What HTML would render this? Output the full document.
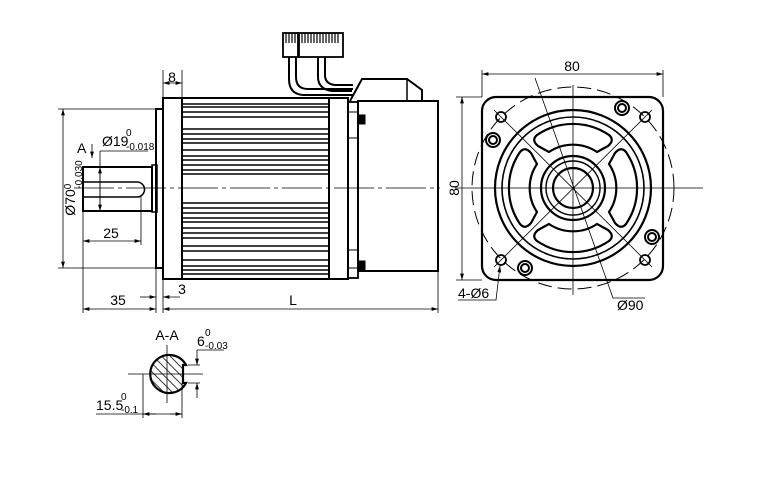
<!DOCTYPE html>
<html><head><meta charset="utf-8"><style>
html,body{margin:0;padding:0;background:#fff}
svg{display:block}
text{font-family:"Liberation Sans Narrow","Liberation Sans",sans-serif;fill:#000}
</style></head><body>
<svg width="760" height="485" viewBox="0 0 760 485" xmlns="http://www.w3.org/2000/svg">
<defs>
<marker id="a" viewBox="0 0 10 6" refX="10" refY="3" markerWidth="8" markerHeight="5" orient="auto-start-reverse"><path d="M0,0L10,3L0,6z" fill="#000"/></marker>
<pattern id="h" width="6" height="6" patternUnits="userSpaceOnUse" patternTransform="rotate(-45)"><line x1="0" y1="0" x2="0" y2="6" stroke="#000" stroke-width="1.6"/></pattern>
</defs>
<g fill="none" stroke="#000">
<rect x="283" y="33" width="15" height="24" stroke-width="1.8"/>
<rect x="299" y="33" width="44" height="24" stroke-width="1.8"/>
<g stroke-width="1.2">
<path d="M286,33v10M289,33v10M292,33v10M295,33v10M302,33v10M305,33v10M308,33v10M311,33v10M314,33v10M317,33v10M320,33v10M323,33v10M326,33v10M329,33v10M332,33v10M335,33v10M338,33v10"/>
</g>
<path d="M289,57v22q0,15 14,16h50M296,57v20q0,12 12,12h45" stroke-width="2"/>
<path d="M318,57v20q0,12 14,14h20M325,57v18q0,9 10,10h18" stroke-width="2"/>
<path d="M350,101L362,79H407L422,90V101" stroke-width="2"/>
<path d="M407,79V101" stroke-width="1.5"/>
<rect x="156" y="109" width="7" height="159" stroke-width="2"/>
<rect x="152" y="165" width="5" height="47" stroke-width="1.5"/>
<rect x="83" y="167" width="69" height="44" stroke-width="2"/>
<path d="M83,182H137a7.5,7.5 0 0 1 0,15H83" stroke-width="1.5"/>
<rect x="163" y="98" width="185" height="181" stroke-width="2"/>
<path d="M182,98V279M329,98V279" stroke-width="2"/>
<g stroke-width="1.5">
<path d="M182,104H329M182,107H329M182,112H329M182,117H329M182,129H329M182,134H329M182,139H329M182,143H329M182,150H329M182,156H329M182,160H329M182,165H329M182,170H329M182,174H329"/>
<path d="M182,203H329M182,208H329M182,213H329M182,218H329M182,222H329M182,228H329M182,233H329M182,238H329M182,246H329M182,251H329M182,260H329M182,266H329M182,270H329M182,274H329"/>
</g>
<rect x="348" y="102" width="10" height="176" stroke-width="1.8"/>
<path d="M348,112H358M348,138H358M348,250H358M348,268H358" stroke-width="1"/>
<rect x="358" y="101" width="80" height="170" stroke-width="2"/>
<rect x="358" y="115" width="7" height="9" fill="#000"/>
<rect x="358" y="261" width="7" height="9" fill="#000"/>
<path d="M74,188H440" stroke-width="0.8" stroke-dasharray="40,4,4,4"/>
<g stroke-width="0.8">
<path d="M58,109H156M58,268H156"/>
<path d="M63,109V268" marker-start="url(#a)" marker-end="url(#a)"/>
<path d="M163,70V98M182,70V98"/>
<path d="M163,83H182" marker-start="url(#a)" marker-end="url(#a)"/>
<path d="M92,144V158" marker-end="url(#a)"/>
<path d="M100,151H148"/>
<path d="M100,151V211" marker-end="url(#a)"/>
<path d="M100,211V167" marker-end="url(#a)"/>
<path d="M83,211V313M141,197V245M156,268V313M163,279V313M438,271V313"/>
<path d="M83,241H141" marker-start="url(#a)" marker-end="url(#a)"/>
<path d="M83,309H156" marker-start="url(#a)" marker-end="url(#a)"/>
<path d="M163,309H438" marker-start="url(#a)" marker-end="url(#a)"/>
<path d="M140,297H156" marker-end="url(#a)"/>
<path d="M180,297H163" marker-end="url(#a)"/>
</g>
</g>
<text x="172" y="82" font-size="14" text-anchor="middle">8</text>
<text x="77" y="153" font-size="14">A</text>
<text x="102" y="146" font-size="14">Ø19</text>
<text x="126" y="136" font-size="10">0</text>
<text x="126" y="150" font-size="10">-0.018</text>
<text transform="translate(75,188) rotate(-90)" font-size="14" text-anchor="middle">Ø70<tspan font-size="10" dy="-4">0</tspan><tspan font-size="10" dy="11" dx="-5">-0.030</tspan></text>
<text x="111" y="238" font-size="14" text-anchor="middle">25</text>
<text x="118" y="305" font-size="14" text-anchor="middle">35</text>
<text x="182" y="294" font-size="14" text-anchor="middle">3</text>
<text x="293" y="305" font-size="14" text-anchor="middle">L</text>
<g fill="none" stroke="#000">
<rect x="482" y="97" width="181" height="183" rx="14" stroke-width="2.2"/>
<circle cx="573" cy="188" r="101" stroke-width="1" stroke-dasharray="14,6"/>
<circle cx="573" cy="188" r="78" stroke-width="2.2"/>
<circle cx="573" cy="188" r="71" stroke-width="1.6"/>
<circle cx="573" cy="188" r="32" stroke-width="2.2"/>
<circle cx="573" cy="188" r="27" stroke-width="1.4"/>
<circle cx="573" cy="188" r="20" stroke-width="2.2"/>
<g stroke-width="2.2" stroke-linejoin="round">
<path id="w" d="M537,135A64,64 0 0 1 609,135Q615,140 608,146L597,152A43,43 0 0 0 549,152L538,146Q531,140 537,135Z"/>
<use href="#w" transform="rotate(90 573 188)"/>
<use href="#w" transform="rotate(180 573 188)"/>
<use href="#w" transform="rotate(270 573 188)"/>
</g>
<g stroke-width="1.8">
<circle cx="501" cy="117" r="5"/><circle cx="645" cy="117" r="5"/>
<circle cx="501" cy="260" r="5"/><circle cx="645" cy="260" r="5"/>
</g>
<g stroke-width="2">
<circle cx="493" cy="140" r="7"/><circle cx="493" cy="140" r="4"/>
<circle cx="622" cy="108" r="7"/><circle cx="622" cy="108" r="4"/>
<circle cx="652" cy="237" r="7"/><circle cx="652" cy="237" r="4"/>
<circle cx="525" cy="268" r="7"/><circle cx="525" cy="268" r="4"/>
</g>
<g stroke-width="0.8">
<path d="M494,110L652,267M652,110L494,267"/>
<path d="M455,188H703M573,85V295"/>
<path d="M482,70V97M663,70V97"/>
<path d="M482,74H663" marker-start="url(#a)" marker-end="url(#a)"/>
<path d="M456,97H482M456,280H482"/>
<path d="M462,97V280" marker-start="url(#a)" marker-end="url(#a)"/>
<path d="M535,78L613,298H645"/>
<path d="M458,300H496L500,266" marker-end="url(#a)"/>
</g>
</g>
<text x="572" y="71" font-size="14" text-anchor="middle">80</text>
<text transform="translate(459,188) rotate(-90)" font-size="14" text-anchor="middle">80</text>
<text x="458" y="298" font-size="14">4-Ø6</text>
<text x="617" y="310" font-size="14">Ø90</text>
<g stroke="#000">
<path d="M186,365A19,19 0 1 0 186,383H183V365Z" fill="url(#h)" stroke-width="2.2"/>
<g fill="none" stroke-width="0.8">
<path d="M128,374H203M167,345V403"/>
<path d="M188,365H200M188,383H200"/>
<path d="M197,350H224"/>
<path d="M197,350V365" marker-end="url(#a)"/>
<path d="M197,398V383" marker-end="url(#a)"/>
<path d="M143,374V418M182,383V418"/>
<path d="M96,414H182"/>
<path d="M143,414H156" marker-start="url(#a)"/>
<path d="M170,414H182" marker-end="url(#a)"/>
</g>
</g>
<text x="167" y="340" font-size="14" text-anchor="middle">A-A</text>
<text x="197" y="346" font-size="14">6</text>
<text x="205" y="336" font-size="10">0</text>
<text x="205" y="349" font-size="10">-0.03</text>
<text x="96" y="410" font-size="14">15.5</text>
<text x="121" y="400" font-size="10">0</text>
<text x="121" y="413" font-size="10">-0.1</text>
</svg>
</body></html>
